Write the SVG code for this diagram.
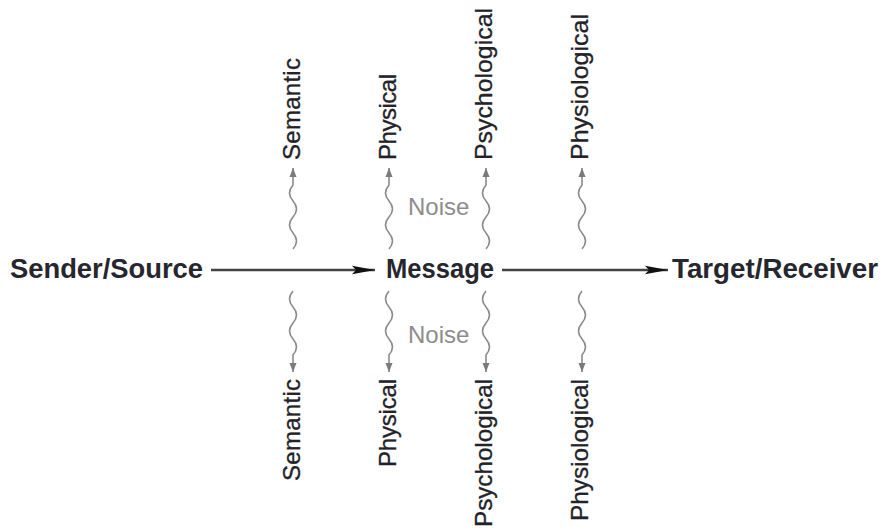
<svg xmlns="http://www.w3.org/2000/svg" width="885" height="531" viewBox="0 0 885 531">
  <style>
    .main { font-family: "Liberation Sans", Arial, sans-serif; font-weight: bold; font-size: 27px; fill: #26262e; }
    .lab { font-family: "Liberation Sans", Arial, sans-serif; font-size: 24px; fill: #222228; stroke: #222228; stroke-width: 0.3; }
    .noise { font-family: "Liberation Sans", Arial, sans-serif; font-size: 24px; fill: #8c8c8c; }
    .flow { stroke: #444; stroke-width: 2.4; fill: none; }
    .wave { stroke: #8a8a8a; stroke-width: 1.6; fill: none; }
  </style>
  <defs>
    <marker id="bigArrow" markerUnits="userSpaceOnUse" markerWidth="24" markerHeight="10" refX="23" refY="5" orient="auto">
      <path d="M0,0.8 L23,5 L0,9.2 L4,5 z" fill="#111"/>
    </marker>
    <marker id="smallArrow" markerUnits="userSpaceOnUse" markerWidth="10" markerHeight="8" refX="9" refY="4" orient="auto">
      <path d="M0,0.5 L9,4 L0,7.5 z" fill="#7a7a7a"/>
    </marker>
  </defs>
  <rect width="885" height="531" fill="#ffffff"/>

  <g id="connectors">
    <line class="flow" x1="211" y1="270" x2="375" y2="270" marker-end="url(#bigArrow)"/>
    <line class="flow" x1="502" y1="270" x2="668" y2="270" marker-end="url(#bigArrow)"/>
    <path class="wave" d="M293,249 q7,-8 0,-16 t0,-16 t0,-16 t0,-16 L293,168" marker-end="url(#smallArrow)"/>
    <path class="wave" d="M389,249 q7,-8 0,-16 t0,-16 t0,-16 t0,-16 L389,168" marker-end="url(#smallArrow)"/>
    <path class="wave" d="M486,249 q7,-8 0,-16 t0,-16 t0,-16 t0,-16 L486,168" marker-end="url(#smallArrow)"/>
    <path class="wave" d="M582,249 q7,-8 0,-16 t0,-16 t0,-16 t0,-16 L582,168" marker-end="url(#smallArrow)"/>
    <path class="wave" d="M293,291 q-7,8 0,16 t0,16 t0,16 t0,16 L293,372" marker-end="url(#smallArrow)"/>
    <path class="wave" d="M389,291 q-7,8 0,16 t0,16 t0,16 t0,16 L389,372" marker-end="url(#smallArrow)"/>
    <path class="wave" d="M486,291 q-7,8 0,16 t0,16 t0,16 t0,16 L486,372" marker-end="url(#smallArrow)"/>
    <path class="wave" d="M582,291 q-7,8 0,16 t0,16 t0,16 t0,16 L582,372" marker-end="url(#smallArrow)"/>
  </g>

  <g id="sender"><text class="main" x="10" y="278" textLength="193" lengthAdjust="spacingAndGlyphs">Sender/Source</text></g>
  <g id="message"><text class="main" x="386" y="278" textLength="108" lengthAdjust="spacingAndGlyphs">Message</text></g>
  <g id="target"><text class="main" x="672" y="278" textLength="206" lengthAdjust="spacingAndGlyphs">Target/Receiver</text></g>

  <g id="noise-upper"><text class="noise" x="408" y="215">Noise</text></g>
  <g id="noise-lower"><text class="noise" x="408" y="343">Noise</text></g>

  <g id="upper-semantic"><text class="lab" textLength="102" transform="translate(300,160) rotate(-90)">Semantic</text></g>
  <g id="upper-physical"><text class="lab" textLength="86" transform="translate(396,160) rotate(-90)">Physical</text></g>
  <g id="upper-psychological"><text class="lab" textLength="152" lengthAdjust="spacingAndGlyphs" transform="translate(492,160) rotate(-90)">Psychological</text></g>
  <g id="upper-physiological"><text class="lab" textLength="146" lengthAdjust="spacingAndGlyphs" transform="translate(588,160) rotate(-90)">Physiological</text></g>

  <g id="lower-semantic"><text class="lab" text-anchor="end" textLength="102" transform="translate(300,379) rotate(-90)">Semantic</text></g>
  <g id="lower-physical"><text class="lab" text-anchor="end" textLength="88" transform="translate(396,379) rotate(-90)">Physical</text></g>
  <g id="lower-psychological"><text class="lab" text-anchor="end" textLength="148" lengthAdjust="spacingAndGlyphs" transform="translate(492,379) rotate(-90)">Psychological</text></g>
  <g id="lower-physiological"><text class="lab" text-anchor="end" textLength="142" lengthAdjust="spacingAndGlyphs" transform="translate(588,379) rotate(-90)">Physiological</text></g>
</svg>
